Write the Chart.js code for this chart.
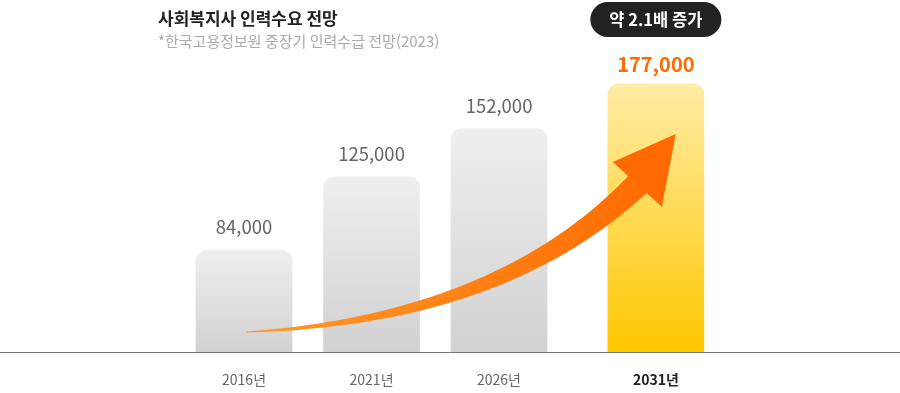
<!DOCTYPE html>
<html lang="ko">
<head>
<meta charset="utf-8">
<script src="https://cdn.jsdelivr.net/npm/chart.js@4.4.1/dist/chart.umd.min.js"></script>
<style>
  html, body { margin: 0; padding: 0; background: #fff; }
  #wrap { position: relative; width: 900px; height: 393px; }
</style>
</head>
<body>
<div id="wrap"><canvas id="chart"></canvas></div>
<script>
const years = ['2016년', '2021년', '2026년', '2031년']
const demand = [84000, 125000, 152000, 177000]
const titleText = '사회복지사 인력수요 전망'
const sourceText = '*한국고용정보원 중장기 인력수급 전망(2023)'
const badgeText = '약 2.1배 증가'

const FONT = "'Noto Sans CJK KR', 'Noto Sans', sans-serif"
const LAST = years.length - 1

// the highlighted column stands a little apart from the others
const slot = i => (i === LAST ? i + 0.23 : i)

function barGradient (ctx) {
  const chart = ctx.chart
  const area = chart.chartArea
  if (!area) return '#e0e0e0'
  const top = chart.scales.y.getPixelForValue(ctx.raw.y)
  const g = chart.ctx.createLinearGradient(0, top, 0, area.bottom)
  if (ctx.dataIndex === LAST) {
    g.addColorStop(0, '#ffeca6')
    g.addColorStop(1, '#ffc700')
  } else {
    g.addColorStop(0, '#efefef')
    g.addColorStop(1, '#d1d1d1')
  }
  return g
}

// curved arrow, value labels, badge and heading
const decorations = {
  id: 'decorations',
  afterDatasetsDraw (chart) {
    const { ctx, chartArea } = chart
    const bars = chart.getDatasetMeta(0).data
    const first = bars[0]
    const last = bars[LAST]

    // arrow
    const p0 = { x: first.x + 2, y: chartArea.bottom - 20 }
    const tip = { x: last.x + 20, y: last.y + 50 }
    const p2 = { x: tip.x - 38, y: tip.y + 50 }
    const p1 = { x: p0.x + 254, y: p0.y - 12 }
    const upper = []
    const lower = []
    for (let i = 0; i <= 48; i++) {
      const t = i / 48
      const u = 1 - t
      const x = u * u * p0.x + 2 * u * t * p1.x + t * t * p2.x
      const y = u * u * p0.y + 2 * u * t * p1.y + t * t * p2.y
      const dx = 2 * u * (p1.x - p0.x) + 2 * t * (p2.x - p1.x)
      const dy = 2 * u * (p1.y - p0.y) + 2 * t * (p2.y - p1.y)
      const len = Math.hypot(dx, dy)
      const w = (1 + 24 * t) / 2
      upper.push([x + (dy / len) * w, y - (dx / len) * w])
      lower.push([x - (dy / len) * w, y + (dx / len) * w])
    }
    const grad = ctx.createLinearGradient(p0.x, 0, tip.x, 0)
    grad.addColorStop(0, '#ff9a2a')
    grad.addColorStop(1, '#ff6a00')
    ctx.save()
    ctx.fillStyle = grad
    ctx.beginPath()
    upper.forEach(([x, y], i) => (i ? ctx.lineTo(x, y) : ctx.moveTo(x, y)))
    lower.reverse().forEach(([x, y]) => ctx.lineTo(x, y))
    ctx.closePath()
    ctx.fill()
    ctx.beginPath()
    ctx.moveTo(tip.x, tip.y)
    ctx.lineTo(tip.x - 63, tip.y + 28)
    ctx.lineTo(tip.x - 14, tip.y + 73)
    ctx.closePath()
    ctx.fillStyle = '#ff6a00'
    ctx.fill()

    // value labels
    ctx.textAlign = 'center'
    ctx.textBaseline = 'middle'
    bars.forEach((bar, i) => {
      const label = demand[i].toLocaleString('en-US')
      if (i === LAST) {
        ctx.font = `bold 20px ${FONT}`
        ctx.fillStyle = '#ff6a00'
        ctx.fillText(label, bar.x, bar.y - 20)
      } else {
        ctx.font = `18.5px ${FONT}`
        ctx.fillStyle = '#666'
        ctx.fillText(label, bar.x, bar.y - 23)
      }
    })

    // badge over the last column
    ctx.font = `bold 16.5px ${FONT}`
    const bw = ctx.measureText(badgeText).width + 38
    ctx.fillStyle = '#222'
    ctx.beginPath()
    ctx.roundRect(last.x - bw / 2, 2, bw, 35, 17.5)
    ctx.fill()
    ctx.fillStyle = '#fff'
    ctx.fillText(badgeText, last.x, 20)

    // heading
    ctx.textAlign = 'left'
    ctx.font = `bold 17px ${FONT}`
    ctx.fillStyle = '#222'
    ctx.fillText(titleText, 158, 19)
    ctx.font = `15px ${FONT}`
    ctx.fillStyle = '#aaa'
    ctx.fillText(sourceText, 158, 41)
    ctx.restore()
  }
}

new Chart(document.getElementById('chart'), {
  type: 'bar',
  data: {
    datasets: [{
      data: demand.map((v, i) => ({ x: slot(i), y: v })),
      backgroundColor: barGradient,
      barThickness: 96,
      borderRadius: { topLeft: 11, topRight: 11 },
      borderSkipped: 'bottom'
    }]
  },
  options: {
    responsive: true,
    maintainAspectRatio: false,
    animation: false,
    layout: { padding: 0 },
    plugins: {
      legend: { display: false },
      tooltip: { enabled: false }
    },
    scales: {
      x: {
        type: 'linear',
        offset: false,
        min: -1.914,
        max: 5.145,
        afterBuildTicks: scale => {
          scale.ticks = years.map((_, i) => ({ value: slot(i) }))
        },
        afterFit: scale => { scale.height = 41 },
        grid: { display: false, drawTicks: false },
        border: { display: true, color: '#777', width: 1 },
        ticks: {
          padding: 19,
          autoSkip: false,
          maxRotation: 0,
          callback: (value, index) => years[index],
          color: ctx => (ctx.index === LAST ? '#222' : '#666'),
          font: ctx => ({
            family: FONT,
            size: 14,
            weight: ctx.index === LAST ? 'bold' : 'normal'
          })
        }
      },
      y: {
        display: false,
        min: 27000,
        max: 224000
      }
    }
  },
  plugins: [decorations]
})
</script>
</body>
</html>
